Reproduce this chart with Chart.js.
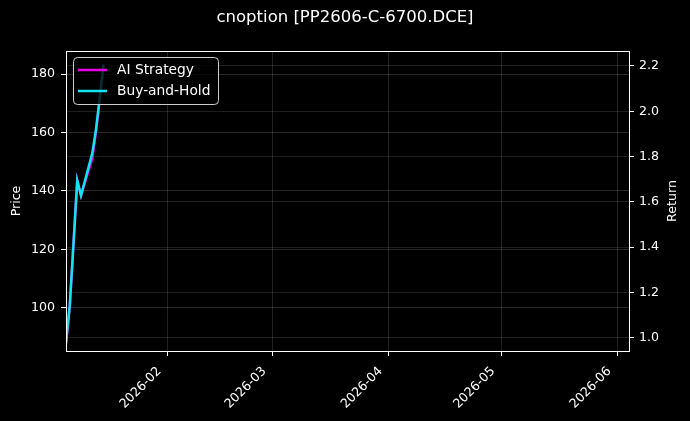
<!DOCTYPE html>
<html>
<head>
<meta charset="utf-8">
<script src="https://cdn.jsdelivr.net/npm/chart.js@4.4.1/dist/chart.umd.min.js"></script>
<style>
  html, body { margin: 0; padding: 0; background: #000; }
  #wrap { width: 690px; height: 421px; }
</style>
</head>
<body>
<div id="wrap"><canvas id="c" width="690" height="421"></canvas></div>
<script>
// ---- data ----
const TITLE = 'cnoption [PP2606-C-6700.DCE]';
const dates = ['2026-01-05','2026-01-06','2026-01-07','2026-01-08','2026-01-09','2026-01-12','2026-01-13','2026-01-14','2026-01-15'];
const aiStrategy = [0.975, 1.14, 1.415, 1.694, 1.628, 1.79, 1.91, 2.055, 2.206];
const buyAndHold = [0.975, 1.14, 1.415, 1.694, 1.628, 1.814, 1.92, 2.06, 2.206];
const seriesLabels = ['AI Strategy', 'Buy-and-Hold'];
const monthTicks = ['2026-02','2026-03','2026-04','2026-05','2026-06'];
const priceTicks = [100, 120, 140, 160, 180];
const returnTicks = [1.0, 1.2, 1.4, 1.6, 1.8, 2.0, 2.2];
const priceRange = [85.25, 187.9];
const returnRange = [0.941, 2.266];
const dateRange = ['2026-01-05', '2026-06-04'];
const LEFT_LABEL = 'Price';
const RIGHT_LABEL = 'Return';

function dayOf(s) {
  const p = s.split('-').map(Number);
  return Date.UTC(p[0], p[1] - 1, p[2] || 1) / 86400000;
}

const FONT = 'DejaVu Sans';
const TICK_SIZE = 12.6;
const tickFont = { family: FONT, size: TICK_SIZE };

const bgPlugin = {
  id: 'bg',
  beforeDraw(chart) {
    const ctx = chart.ctx;
    ctx.save();
    ctx.fillStyle = '#000';
    ctx.fillRect(0, 0, chart.width, chart.height);
    ctx.restore();
  }
};

const framePlugin = {
  id: 'frame',
  afterDatasetsDraw(chart) {
    const { ctx, chartArea: a } = chart;
    ctx.save();
    ctx.strokeStyle = '#ffffff';
    ctx.lineWidth = 1;
    ctx.strokeRect(Math.round(a.left) + 0.5, Math.round(a.top) + 0.5, Math.round(a.right - a.left), Math.round(a.bottom - a.top));
    // right axis title (reads bottom-to-top)
    ctx.fillStyle = '#ffffff';
    ctx.font = TICK_SIZE + 'px "' + FONT + '"';
    ctx.textAlign = 'center';
    ctx.textBaseline = 'middle';
    ctx.translate(672.5, (a.top + a.bottom) / 2);
    ctx.rotate(-Math.PI / 2);
    ctx.fillText(RIGHT_LABEL, 0, 0);
    ctx.restore();
  }
};

const legendPlugin = {
  id: 'innerLegend',
  afterDatasetsDraw(chart) {
    const { ctx, chartArea: a } = chart;
    const x = a.left + 7, y = a.top + 6, w = 145, h = 47, r = 4;
    ctx.save();
    ctx.beginPath();
    ctx.roundRect(x + 0.5, y + 0.5, w, h, r);
    ctx.fillStyle = 'rgba(0,0,0,0.8)';
    ctx.fill();
    ctx.strokeStyle = '#cccccc';
    ctx.lineWidth = 1;
    ctx.stroke();
    ctx.font = '13.8px "' + FONT + '"';
    ctx.textBaseline = 'middle';
    ctx.textAlign = 'left';
    chart.data.datasets.forEach((ds, i) => {
      const ry = y + 13 + i * 21;
      ctx.beginPath();
      ctx.moveTo(x + 5, ry);
      ctx.lineTo(x + 34, ry);
      ctx.strokeStyle = ds.borderColor;
      ctx.lineWidth = 2.5;
      ctx.stroke();
      ctx.fillStyle = '#ffffff';
      ctx.fillText(ds.label, x + 44, ry);
    });
    ctx.restore();
  }
};

const xs = dates.map(dayOf);

new Chart(document.getElementById('c'), {
  type: 'line',
  data: {
    datasets: [
      { label: seriesLabels[0], data: xs.map((x, i) => ({ x, y: aiStrategy[i] })), yAxisID: 'y1',
        borderColor: '#e600e6', borderWidth: 2.5, pointRadius: 0, tension: 0, order: 2 },
      { label: seriesLabels[1], data: xs.map((x, i) => ({ x, y: buyAndHold[i] })), yAxisID: 'y1',
        borderColor: '#12e4ee', borderWidth: 2.5, pointRadius: 0, tension: 0, order: 1 }
    ]
  },
  options: {
    responsive: false,
    animation: false,
    devicePixelRatio: 1,
    layout: { padding: 0 },
    plugins: {
      legend: { display: false },
      tooltip: { enabled: false },
      title: {
        display: true, text: TITLE, color: '#ffffff',
        font: { family: FONT, size: 16.5, weight: 'normal' },
        padding: { top: 8, bottom: 23.2 }
      }
    },
    scales: {
      x: {
        type: 'linear', position: 'bottom',
        min: dayOf(dateRange[0]), max: dayOf(dateRange[1]) + 0.1,
        afterBuildTicks(s) { s.ticks = monthTicks.map(m => ({ value: dayOf(m + '-01') })); },
        afterFit(s) { s.height = 70; },
        ticks: {
          autoSkip: false, minRotation: 45, maxRotation: 45, color: '#ffffff', font: tickFont,
          padding: 8, labelOffset: -8,
          callback: (v, i) => monthTicks[i]
        },
        grid: { color: 'rgba(255,255,255,0.17)', lineWidth: 0.8, borderDash: [2, 2],
          tickColor: '#ffffff', tickLength: 5, tickWidth: 1, tickBorderDash: [] },
        border: { display: false }
      },
      y: {
        type: 'linear', position: 'left',
        min: priceRange[0], max: priceRange[1],
        afterBuildTicks(s) { s.ticks = priceTicks.map(v => ({ value: v })); },
        afterFit(s) { s.width = 66; },
        ticks: { color: '#ffffff', font: tickFont, padding: 6 },
        grid: { color: 'rgba(255,255,255,0.2)', lineWidth: 0.8, borderDash: [4, 2],
          tickColor: '#ffffff', tickLength: 5, tickWidth: 1, tickBorderDash: [] },
        border: { display: false },
        title: { display: true, text: LEFT_LABEL, color: '#ffffff', font: { family: FONT, size: TICK_SIZE }, padding: { top: 9, bottom: 0 } }
      },
      y1: {
        type: 'linear', position: 'right',
        min: returnRange[0], max: returnRange[1],
        afterBuildTicks(s) { s.ticks = returnTicks.map(v => ({ value: v })); },
        afterFit(s) { s.width = 61; },
        ticks: { color: '#ffffff', font: tickFont, padding: 5, callback: v => v.toFixed(1) },
        grid: { color: 'rgba(255,255,255,0.15)', lineWidth: 0.8, borderDash: [2, 2],
          tickColor: '#ffffff', tickLength: 5, tickWidth: 1, tickBorderDash: [] },
        border: { display: false }
      }
    }
  },
  plugins: [bgPlugin, framePlugin, legendPlugin]
});
</script>
</body>
</html>
